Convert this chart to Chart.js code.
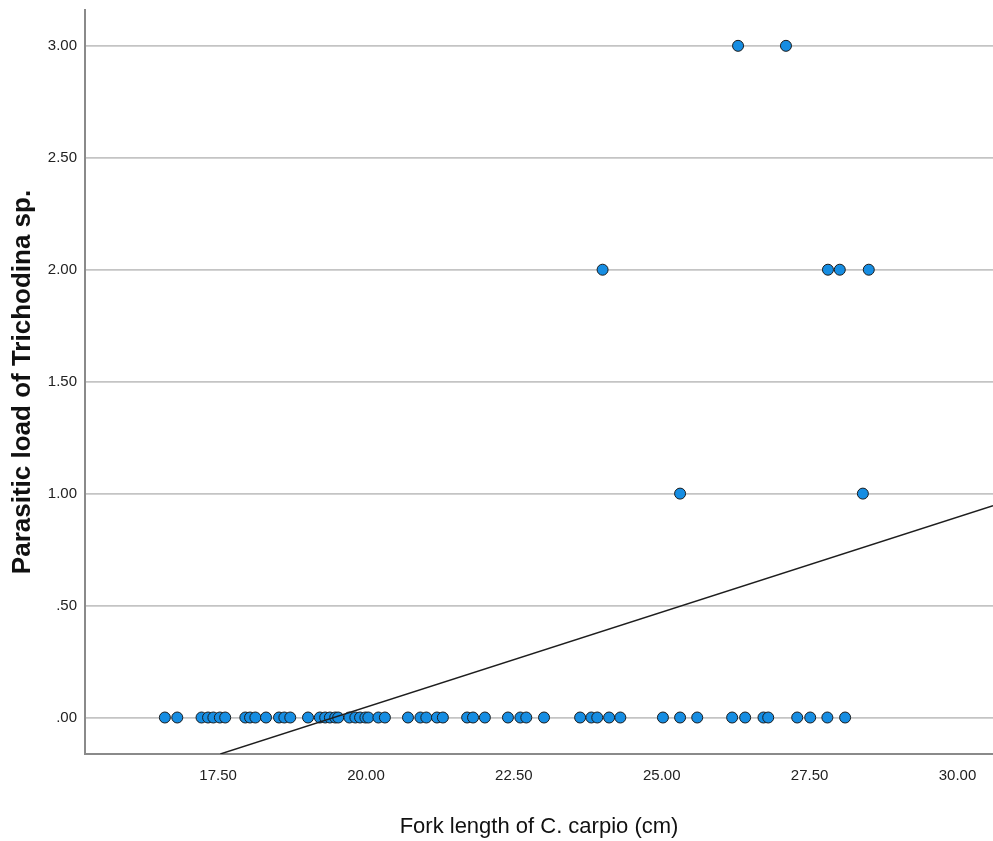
<!DOCTYPE html>
<html>
<head>
<meta charset="utf-8">
<script src="https://cdn.jsdelivr.net/npm/chart.js@4.4.0/dist/chart.umd.min.js"></script>
<style>
  html, body { margin: 0; padding: 0; background: #fff; overflow: hidden; }
  #wrap { width: 993px; height: 841px; }
</style>
</head>
<body>
<div id="wrap"><canvas id="myChart"></canvas></div>
<script>
// fork length (cm) and parasite count per fish
let forkLength = [
  16.60, 16.81, 17.22, 17.33, 17.42, 17.53, 17.62, 17.96, 18.04, 18.13,
  18.31, 18.53, 18.62, 18.72, 19.02, 19.22, 19.31, 19.39, 19.48, 19.53,
  19.72, 19.82, 19.90, 19.99, 20.04, 20.21, 20.32, 20.71, 20.92, 21.02,
  21.20, 21.30, 21.71, 21.81, 22.01, 22.40, 22.61, 22.71, 23.01, 23.62,
  23.81, 23.91, 24.11, 24.30, 25.02, 25.31, 25.60, 26.19, 26.41, 26.72,
  26.80, 27.29, 27.51, 27.80, 28.10,
  25.31, 28.40,
  24.00, 27.81, 28.01, 28.50,
  26.29, 27.10
];
let parasiteLoad = [
  0, 0, 0, 0, 0, 0, 0, 0, 0, 0,
  0, 0, 0, 0, 0, 0, 0, 0, 0, 0,
  0, 0, 0, 0, 0, 0, 0, 0, 0, 0,
  0, 0, 0, 0, 0, 0, 0, 0, 0, 0,
  0, 0, 0, 0, 0, 0, 0, 0, 0, 0,
  0, 0, 0, 0, 0,
  1, 1,
  2, 2, 2, 2,
  3, 3
];
let xTicks = [17.5, 20, 22.5, 25, 27.5, 30];
let yTicks = [0, 0.5, 1, 1.5, 2, 2.5, 3];

// fit line at total (as drawn in the figure)
let fitSlope = 0.0849;
let fitIntercept = -1.652;

let xMin = 15.25, xMax = 30.60;
let yMin = -0.163, yMax = 3.16;

let points = forkLength.map((x, i) => ({ x: x, y: parasiteLoad[i] }));
let fitX = [(yMin - fitIntercept) / fitSlope, xMax];
let fitPts = fitX.map(x => ({ x: x, y: fitSlope * x + fitIntercept }));

let font = "'Liberation Sans', Arial, sans-serif";

// drop the extra room chart.js keeps for edge labels
let noPad = (scale) => {
  scale.paddingTop = 0;
  scale.paddingBottom = 0;
  scale.paddingLeft = 0;
  scale.paddingRight = 0;
};

let ctx = document.getElementById('myChart').getContext('2d');
let myChart = new Chart(ctx, {
  type: 'scatter',
  data: {
    datasets: [{
      type: 'line',
      data: fitPts,
      borderColor: '#1e1e1e',
      borderWidth: 1.4,
      pointRadius: 0,
      fill: false
    }, {
      data: points,
      pointRadius: 5.5,
      pointBackgroundColor: '#168de2',
      pointBorderColor: '#1b1b1b',
      pointBorderWidth: 1
    }]
  },
  options: {
    responsive: true,
    maintainAspectRatio: false,
    animation: false,
    layout: { autoPadding: false, padding: { top: 10, left: 0, right: 0, bottom: 0 } },
    plugins: {
      legend: { display: false },
      tooltip: { enabled: false }
    },
    scales: {
      x: {
        type: 'linear',
        min: xMin,
        max: xMax,
        afterBuildTicks: (scale) => { scale.ticks = xTicks.map(v => ({ value: v })); },
        afterFit: (scale) => { scale.height = 87; noPad(scale); },
        grid: { display: false, drawTicks: false },
        border: { display: true, color: '#8a8a8a', width: 2 },
        ticks: {
          color: '#222',
          padding: 13,
          maxRotation: 0,
          font: { family: font, size: 15 },
          callback: (v) => v.toFixed(2)
        },
        title: {
          display: true,
          text: 'Fork length of C. carpio (cm)',
          color: '#111',
          padding: { top: 0, bottom: 1 },
          font: { family: font, size: 22 }
        }
      },
      y: {
        type: 'linear',
        min: yMin,
        max: yMax,
        afterBuildTicks: (scale) => { scale.ticks = yTicks.map(v => ({ value: v })); },
        afterFit: (scale) => { scale.width = 85; noPad(scale); },
        grid: { color: '#c4c4c4', lineWidth: 1.8, drawTicks: false },
        border: { display: true, color: '#8a8a8a', width: 2 },
        ticks: {
          color: '#222',
          padding: 8,
          font: { family: font, size: 15 },
          callback: (v) => v.toFixed(2).replace(/^0/, '')
        },
        title: {
          display: true,
          text: 'Parasitic load of Trichodina sp.',
          color: '#111',
          padding: { top: 7, bottom: 0 },
          font: { family: font, size: 26, weight: 'bold' }
        }
      }
    }
  }
});
</script>
</body>
</html>
